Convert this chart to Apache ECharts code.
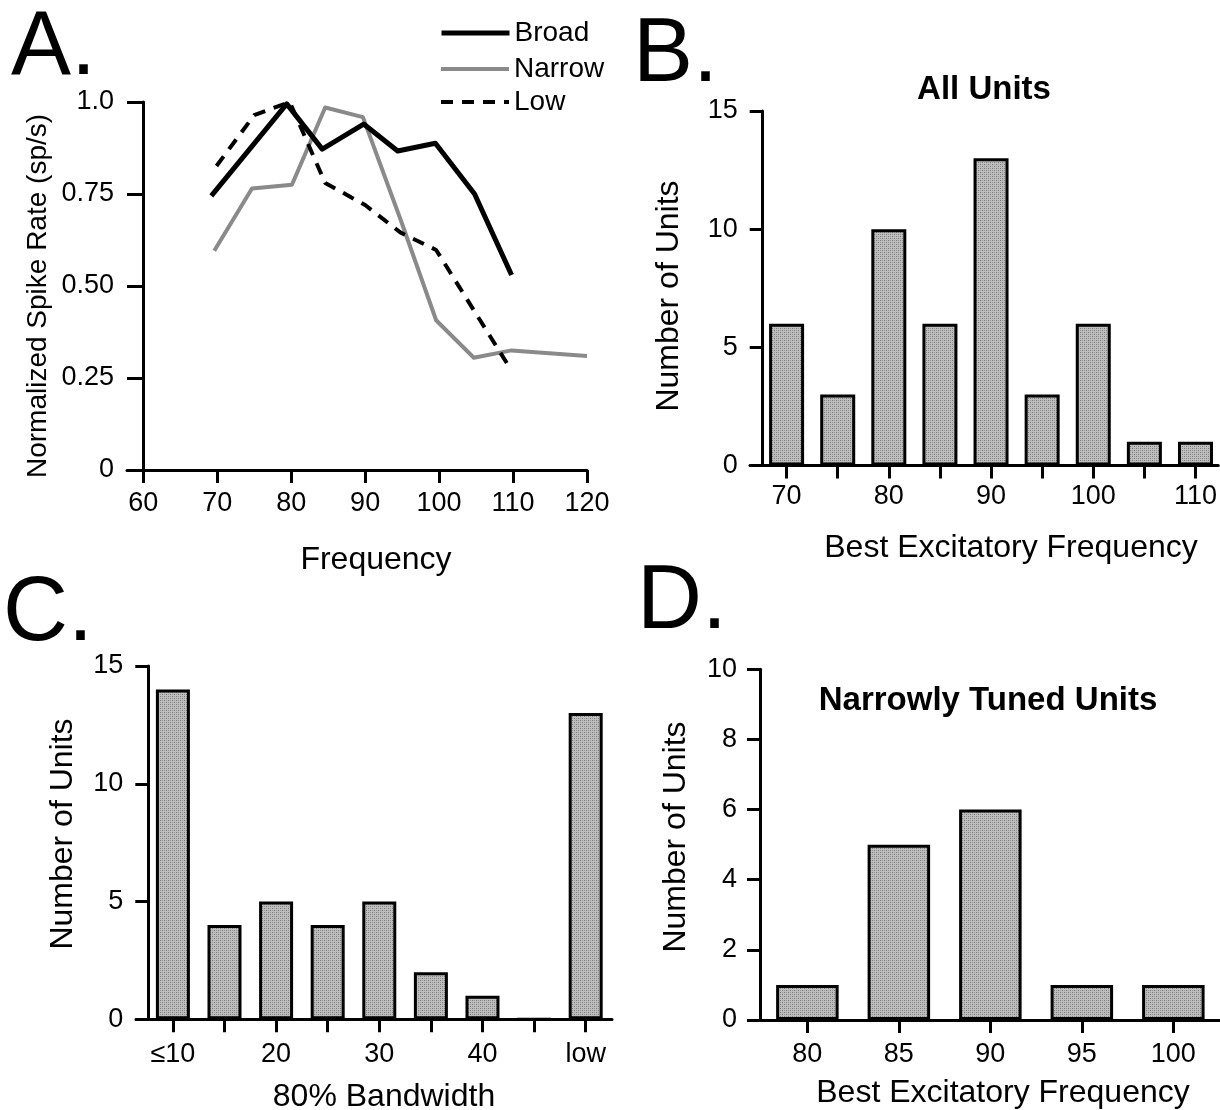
<!DOCTYPE html>
<html>
<head>
<meta charset="utf-8">
<script src="https://cdn.jsdelivr.net/npm/echarts@6/dist/echarts.min.js"></script>
<style>
html,body{margin:0;padding:0;background:#fff;}
#chart{width:1220px;height:1110px;}
</style>
</head>
<body>
<div id="chart"></div>
<script>
// ---------- Panel A data ----------
const freqTicksA = [60, 70, 80, 90, 100, 110, 120];
const rateTicksA = [0, 0.25, 0.5, 0.75, 1.0];
const broadFreq = [69.2, 79.4, 84.2, 89.8, 94.4, 99.5, 104.8, 109.8];
const broadRate = [0.745, 0.995, 0.872, 0.94, 0.867, 0.888, 0.75, 0.53];
const narrowFreq = [69.6, 74.7, 80.1, 84.6, 89.7, 94.8, 99.6, 104.7, 109.8, 120];
const narrowRate = [0.596, 0.765, 0.775, 0.985, 0.959, 0.68, 0.407, 0.305, 0.325, 0.31];
const lowFreq = [69.9, 75.0, 79.8, 84.6, 90.0, 94.8, 99.6, 109.8];
const lowRate = [0.826, 0.964, 1.0, 0.78, 0.72, 0.645, 0.598, 0.27];

// ---------- Panel B data ----------
const allFreq = [70, 75, 80, 85, 90, 95, 100, 105, 110];
const allCount = [6, 3, 10, 6, 13, 3, 6, 1, 1];
const allLabelTicks = [70, 80, 90, 100, 110];

// ---------- Panel C data ----------
const bwCategories = ['≤10', '15', '20', '25', '30', '35', '40', '45', 'low'];
const bwCount = [14, 4, 5, 4, 5, 2, 1, 0, 13];
const bwLabelShown = ['≤10', '20', '30', '40', 'low'];

// ---------- Panel D data ----------
const narrowUnitFreq = [80, 85, 90, 95, 100];
const narrowUnitCount = [1, 5, 6, 1, 1];

// ---------- helpers ----------
const FONT = '"Liberation Sans", Arial, Helvetica, sans-serif';

function makePattern() {
  const c = document.createElement('canvas');
  c.width = 4; c.height = 4;
  const g = c.getContext('2d');
  g.fillStyle = '#bebebe'; g.fillRect(0, 0, 4, 4);
  g.fillStyle = '#7a7a7a';
  g.fillRect(0, 0, 1, 1); g.fillRect(2, 2, 1, 1);
  g.fillStyle = '#979797';
  g.fillRect(2, 0, 1, 1); g.fillRect(0, 2, 1, 1);
  return { image: c, repeat: 'repeat' };
}
const barFill = makePattern();

const axisLine = { show: true, onZero: false, lineStyle: { color: '#000', width: 3 } };
const tickStyle = { show: true, length: 13, lineStyle: { color: '#000', width: 3 } };
const labelStyle = { color: '#000', fontFamily: FONT, fontSize: 27 };

function pairs(xs, ys) { return xs.map((x, i) => [x, ys[i]]); }

const chart = echarts.init(document.getElementById('chart'), null, { renderer: 'canvas' });

const grids = [
  { left: 127, top: 102, width: 460, height: 368 },   // A
  { left: 750, top: 111, width: 470, height: 354.5 }, // B
  { left: 136, top: 666, width: 476, height: 353.3 }, // C
  { left: 749, top: 669.3, width: 471, height: 350.7 } // D
];

const legendBase = {
  orient: 'vertical', itemWidth: 68, itemHeight: 14, padding: 0, left: 439,
  itemStyle: { color: 'rgba(0,0,0,0)', borderColor: 'rgba(0,0,0,0)', borderWidth: 0 },
  textStyle: { color: '#000', fontFamily: FONT, fontSize: 28 }
};

const option = {
  backgroundColor: '#ffffff',
  animation: false,
  textStyle: { fontFamily: FONT },
  grid: grids.map(g => Object.assign({ containLabel: false }, g)),
  legend: [
    Object.assign({}, legendBase, { data: ['Broad'], top: 19, lineStyle: { width: 5 } }),
    Object.assign({}, legendBase, { data: ['Narrow'], top: 55, lineStyle: { width: 4 } }),
    Object.assign({}, legendBase, { data: ['Low'], top: 88, lineStyle: { width: 4 } })
  ],
  xAxis: [
    { // A
      gridIndex: 0, type: 'value', min: 57.8, max: 120,
      axisLine: axisLine, splitLine: { show: false },
      axisTick: Object.assign({}, tickStyle, { customValues: freqTicksA }),
      axisLabel: Object.assign({}, labelStyle, { customValues: freqTicksA, margin: 20 })
    },
    { // B
      gridIndex: 1, type: 'value', min: 66.42, max: 112.23,
      axisLine: axisLine, splitLine: { show: false },
      axisTick: Object.assign({}, tickStyle, { customValues: allFreq }),
      axisLabel: Object.assign({}, labelStyle, { customValues: allLabelTicks, margin: 18 })
    },
    { // C
      gridIndex: 2, type: 'value', min: -0.715, max: 8.51,
      axisLine: axisLine, splitLine: { show: false },
      axisTick: Object.assign({}, tickStyle, { customValues: bwCategories.map((c, i) => i) }),
      axisLabel: Object.assign({}, labelStyle, {
        customValues: bwCategories.map((c, i) => i).filter(i => bwLabelShown.indexOf(bwCategories[i]) >= 0),
        formatter: v => bwCategories[Math.round(v)],
        margin: 22
      })
    },
    { // D
      gridIndex: 3, type: 'value', min: 76.81, max: 102.55,
      axisLine: axisLine, splitLine: { show: false },
      axisTick: Object.assign({}, tickStyle, { customValues: narrowUnitFreq }),
      axisLabel: Object.assign({}, labelStyle, { customValues: narrowUnitFreq, margin: 21 })
    }
  ],
  yAxis: [
    { // A
      gridIndex: 0, type: 'value', min: 0, max: 1, interval: 0.25, offset: -16,
      axisLine: axisLine, splitLine: { show: false },
      axisTick: Object.assign({}, tickStyle, { length: 16 }),
      axisLabel: Object.assign({}, labelStyle, {
        margin: 29, fontSize: 27,
        formatter: v => (v === 0 ? '0' : (v === 1 ? '1.0' : v.toFixed(2)))
      })
    },
    { // B
      gridIndex: 1, type: 'value', min: 0, max: 15, interval: 5, offset: -12.7,
      axisLine: axisLine, splitLine: { show: false },
      axisTick: tickStyle,
      axisLabel: Object.assign({}, labelStyle, { margin: 25 })
    },
    { // C
      gridIndex: 2, type: 'value', min: 0, max: 15, interval: 5, offset: -12.3,
      axisLine: axisLine, splitLine: { show: false },
      axisTick: tickStyle,
      axisLabel: Object.assign({}, labelStyle, { margin: 25 })
    },
    { // D
      gridIndex: 3, type: 'value', min: 0, max: 10, interval: 2, offset: -11,
      axisLine: axisLine, splitLine: { show: false },
      axisTick: tickStyle,
      axisLabel: Object.assign({}, labelStyle, { margin: 23 })
    }
  ],
  series: [
    {
      name: 'Broad', type: 'line', xAxisIndex: 0, yAxisIndex: 0,
      data: pairs(broadFreq, broadRate), symbol: 'none', z: 5,
      lineStyle: { color: '#000', width: 5, join: 'round' },
      itemStyle: { color: '#000' }
    },
    {
      name: 'Narrow', type: 'line', xAxisIndex: 0, yAxisIndex: 0,
      data: pairs(narrowFreq, narrowRate), symbol: 'none', z: 3,
      lineStyle: { color: '#8a8a8a', width: 4, join: 'round' },
      itemStyle: { color: '#8a8a8a' }
    },
    {
      name: 'Low', type: 'line', xAxisIndex: 0, yAxisIndex: 0,
      data: pairs(lowFreq, lowRate), symbol: 'none', z: 4,
      lineStyle: { color: '#000', width: 4, type: [12, 9] },
      itemStyle: { color: '#000' }
    },
    {
      name: 'All Units', type: 'bar', xAxisIndex: 1, yAxisIndex: 1,
      data: pairs(allFreq, allCount), barWidth: 35,
      itemStyle: { color: barFill, borderColor: '#000', borderWidth: 3 }
    },
    {
      name: '80% Bandwidth', type: 'bar', xAxisIndex: 2, yAxisIndex: 2,
      data: bwCount.map((v, i) => [i, v]), barWidth: 34,
      itemStyle: { color: barFill, borderColor: '#000', borderWidth: 3 }
    },
    {
      name: 'Narrowly Tuned', type: 'bar', xAxisIndex: 3, yAxisIndex: 3,
      data: pairs(narrowUnitFreq, narrowUnitCount), barWidth: 62.5,
      itemStyle: { color: barFill, borderColor: '#000', borderWidth: 3 }
    }
  ],
  graphic: [
    // panel letters
    { type: 'text', x: 11, y: 49, style: { text: 'A.', fontSize: 90, fontFamily: FONT, fill: '#000', textVerticalAlign: 'middle' } },
    { type: 'text', x: 633, y: 56, style: { text: 'B.', fontSize: 90, fontFamily: FONT, fill: '#000', textVerticalAlign: 'middle' } },
    { type: 'text', x: 3, y: 615, style: { text: 'C.', fontSize: 90, fontFamily: FONT, fill: '#000', textVerticalAlign: 'middle' } },
    { type: 'text', x: 637, y: 603, style: { text: 'D.', fontSize: 90, fontFamily: FONT, fill: '#000', textVerticalAlign: 'middle' } },
    // panel A titles
    { type: 'text', x: 376, y: 560, style: { text: 'Frequency', fontSize: 32, fontFamily: FONT, fill: '#000', textAlign: 'center', textVerticalAlign: 'middle' } },
    { type: 'text', x: 38, y: 296, rotation: Math.PI / 2, style: { text: 'Normalized Spike Rate (sp/s)', fontSize: 28, fontFamily: FONT, fill: '#000', textAlign: 'center', textVerticalAlign: 'middle' } },
    // panel B
    { type: 'text', x: 984, y: 90, style: { text: 'All Units', fontSize: 33, fontWeight: 'bold', fontFamily: FONT, fill: '#000', textAlign: 'center', textVerticalAlign: 'middle' } },
    { type: 'text', x: 1011, y: 548, style: { text: 'Best Excitatory Frequency', fontSize: 32, fontFamily: FONT, fill: '#000', textAlign: 'center', textVerticalAlign: 'middle' } },
    { type: 'text', x: 669, y: 296, rotation: Math.PI / 2, style: { text: 'Number of Units', fontSize: 32, fontFamily: FONT, fill: '#000', textAlign: 'center', textVerticalAlign: 'middle' } },
    // panel C
    { type: 'text', x: 63, y: 834, rotation: Math.PI / 2, style: { text: 'Number of Units', fontSize: 32, fontFamily: FONT, fill: '#000', textAlign: 'center', textVerticalAlign: 'middle' } },
    { type: 'text', x: 384, y: 1097, style: { text: '80% Bandwidth', fontSize: 32, fontFamily: FONT, fill: '#000', textAlign: 'center', textVerticalAlign: 'middle' } },
    // panel D
    { type: 'text', x: 988, y: 701, style: { text: 'Narrowly Tuned Units', fontSize: 33, fontWeight: 'bold', fontFamily: FONT, fill: '#000', textAlign: 'center', textVerticalAlign: 'middle' } },
    { type: 'text', x: 676, y: 837, rotation: Math.PI / 2, style: { text: 'Number of Units', fontSize: 32, fontFamily: FONT, fill: '#000', textAlign: 'center', textVerticalAlign: 'middle' } },
    { type: 'text', x: 1003, y: 1093, style: { text: 'Best Excitatory Frequency', fontSize: 32, fontFamily: FONT, fill: '#000', textAlign: 'center', textVerticalAlign: 'middle' } }
  ]
};

chart.setOption(option);
</script>
</body>
</html>
